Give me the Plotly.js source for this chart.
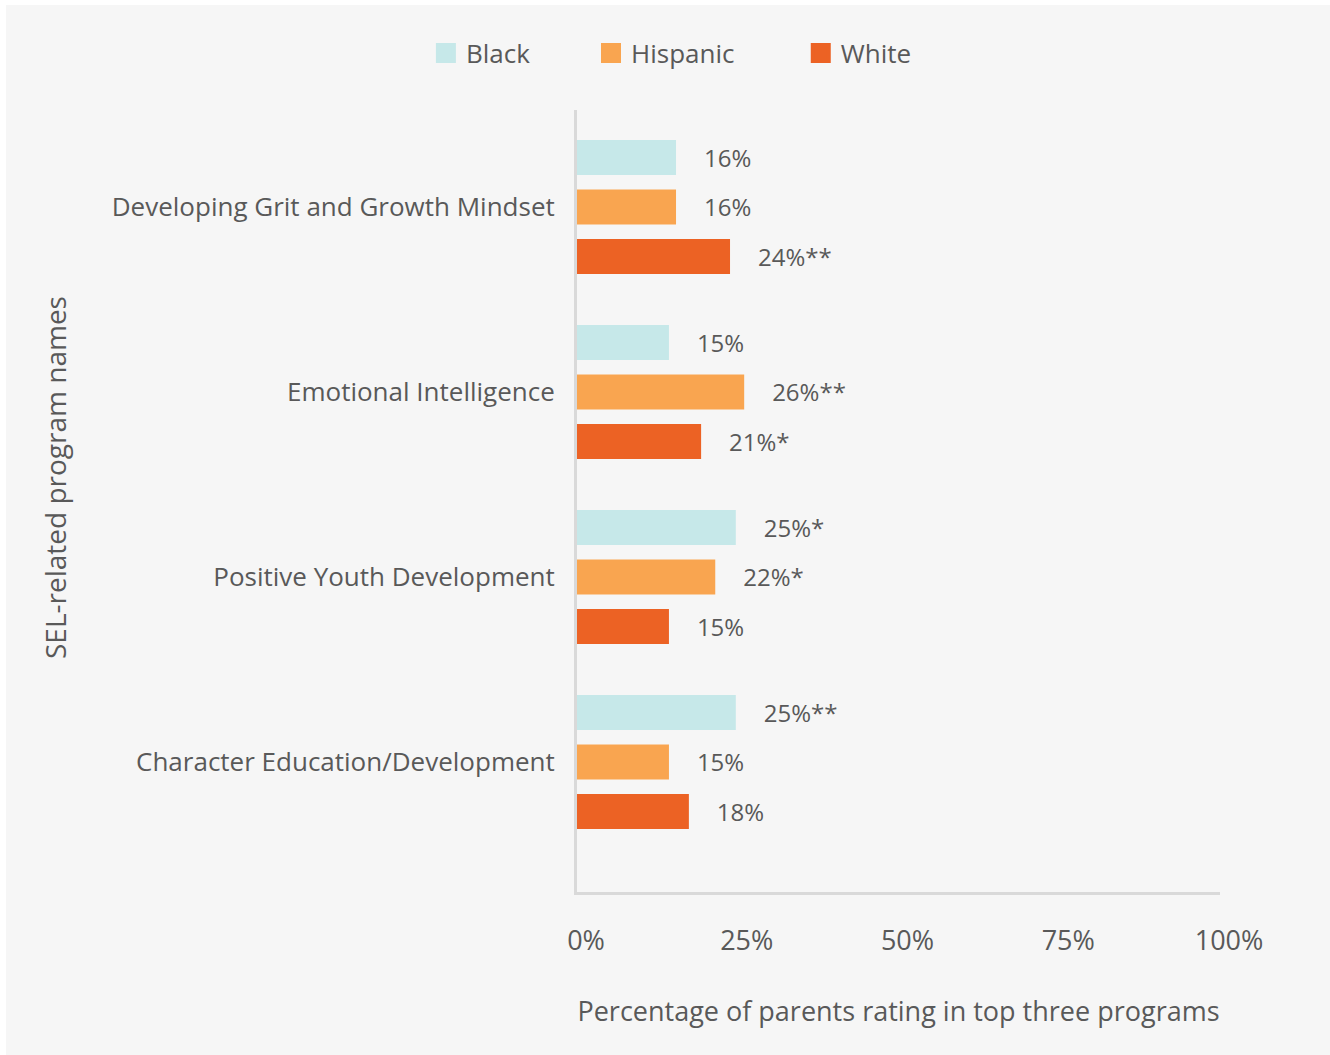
<!DOCTYPE html>
<html>
<head>
<meta charset="utf-8">
<script src="https://cdn.plot.ly/plotly-3.0.1.min.js"></script>
<style>
  html, body { margin: 0; padding: 0; background: #ffffff; }
  #chart { position: absolute; left: 6px; top: 5px; width: 1324px; height: 1050px; }
</style>
</head>
<body>
<div id="chart"></div>
<script>
// ---- data ----
const programs = [
  "Developing Grit and Growth Mindset",
  "Emotional Intelligence",
  "Positive Youth Development",
  "Character Education/Development"
];
const blackValues    = [15.4, 14.3, 24.7, 24.7];
const hispanicValues = [15.4, 26.0, 21.5, 14.3];
const whiteValues    = [23.8, 19.3, 14.3, 17.4];
const blackLabels    = ["16%", "15%", "25%*", "25%**"];
const hispanicLabels = ["16%", "26%**", "22%*", "15%"];
const whiteLabels    = ["24%**", "21%*", "15%", "18%"];
const tickValues = [0, 25, 50, 75, 100];
const tickLabels = ["0%", "25%", "50%", "75%", "100%"];
const xTitle = "Percentage of parents rating in top three programs";
const yTitle = "SEL-related program names";

// ---- styling ----
const textColor = "#595959";
const fontFamily = "'Open Sans', 'Noto Sans', sans-serif";
const colors = { Black: "#c6e8e9", Hispanic: "#f9a550", White: "#ec6224" };

function barTrace(name, values, labels) {
  return {
    type: "bar",
    orientation: "h",
    name: name,
    x: values,
    y: programs,
    text: labels,
    texttemplate: "\u00a0\u00a0\u00a0\u00a0%{text}",
    textposition: "outside",
    cliponaxis: false,
    constraintext: "none",
    textfont: { family: fontFamily, size: 24, color: textColor },
    marker: { color: colors[name] },
    showlegend: false,
    hoverinfo: "skip"
  };
}
function legendTrace(name, legendId) {
  return {
    type: "scatter",
    mode: "markers",
    name: name,
    x: [null],
    y: [null],
    legend: legendId,
    marker: { symbol: "square", size: 16, color: colors[name],
              line: { color: colors[name], width: 4 } },
    showlegend: true,
    hoverinfo: "skip"
  };
}

const data = [
  barTrace("Black", blackValues, blackLabels),
  barTrace("Hispanic", hispanicValues, hispanicLabels),
  barTrace("White", whiteValues, whiteLabels),
  legendTrace("Black", "legend"),
  legendTrace("Hispanic", "legend2"),
  legendTrace("White", "legend3")
];

const legendBase = {
  orientation: "h",
  xanchor: "left",
  yanchor: "middle",
  y: 1.0729,
  bgcolor: "rgba(0,0,0,0)",
  font: { family: fontFamily, size: 26, color: textColor }
};

const layout = {
  width: 1324,
  height: 1050,
  paper_bgcolor: "#f6f6f6",
  plot_bgcolor: "#f6f6f6",
  margin: { l: 571, r: 110, t: 105, b: 163 },
  font: { family: fontFamily, size: 24, color: textColor },
  barmode: "group",
  bargap: 0.197,
  bargroupgap: 0.293,
  showlegend: true,
  legend:  Object.assign({}, legendBase, { x: -0.235 }),
  legend2: Object.assign({}, legendBase, { x: 0.0218 }),
  legend3: Object.assign({}, legendBase, { x: 0.348 }),
  xaxis: {
    type: "linear",
    range: [0, 100],
    tickvals: tickValues,
    ticktext: tickLabels,
    showgrid: false,
    zeroline: false,
    showline: true,
    linecolor: "#d9d9d9",
    linewidth: 3,
    ticks: "",
    ticklabelstandoff: 23,
    ticklabelshift: 9,
    tickfont: { family: fontFamily, size: 27, color: textColor },
    automargin: false,
    title: { text: xTitle,
             font: { family: fontFamily, size: 27, color: textColor }, standoff: 45 }
  },
  yaxis: {
    type: "category",
    range: [3.703, -0.524],
    showgrid: false,
    zeroline: false,
    showline: true,
    linecolor: "#d9d9d9",
    linewidth: 3,
    ticks: "",
    ticklabelstandoff: 14,
    tickfont: { family: fontFamily, size: 26, color: textColor },
    automargin: false
  },
  annotations: [{
    text: yTitle,
    xref: "paper", yref: "paper",
    x: -0.8118, y: 0.5294,
    xanchor: "center", yanchor: "middle",
    textangle: -90,
    showarrow: false,
    font: { family: fontFamily, size: 28, color: textColor }
  }]
};

Plotly.newPlot("chart", data, layout, { displayModeBar: false, staticPlot: true });
</script>
</body>
</html>
